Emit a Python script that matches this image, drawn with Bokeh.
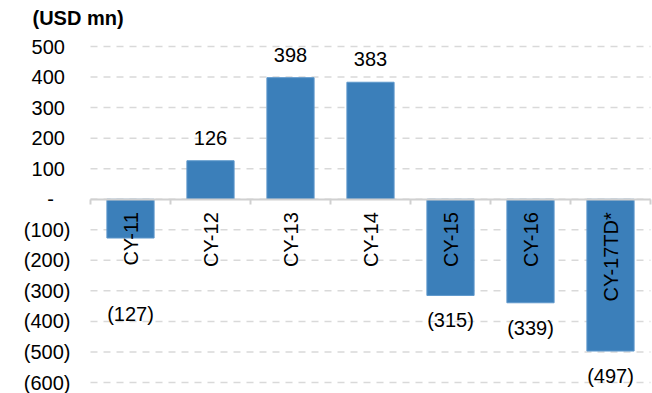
import math
from bokeh.plotting import figure
from bokeh.models import Range1d, FixedTicker, LinearAxis, ColumnDataSource, Label
from bokeh.core.properties import value
from bokeh.embed import file_html
from bokeh.resources import INLINE

categories = ["CY-11", "CY-12", "CY-13", "CY-14", "CY-15", "CY-16", "CY-17TD*"]
values = [-127, 126, 398, 383, -315, -339, -497]
y_ticks = [500, 400, 300, 200, 100, 0, -100, -200, -300, -400, -500, -600]
unit_label = "(USD mn)"

FONT = "Liberation Sans"
BAR = "#3B7FBA"

def fmt(v):
    if v > 0:
        return f"{v:,}\u00a0"
    if v < 0:
        return f"({abs(v):,})"
    return "-\u00a0\u00a0\u00a0"

W, H = 652, 393
n = len(categories)
cat_px = 80          # pixel width of one category slot
left_px = 90         # space for the value labels
right_px = 2
top_px = 46          # top gridline distance from top
bottom_px = 11       # bottom gridline distance from bottom
plot_px = H - top_px - bottom_px
px_per_unit = plot_px / (max(y_ticks) - min(y_ticks))

x_lo = -left_px / cat_px
x_hi = n + right_px / cat_px
y_hi = max(y_ticks) + top_px / px_per_unit
y_lo = min(y_ticks) - bottom_px / px_per_unit

p = figure(width=W, height=H, output_backend="svg", toolbar_location=None,
           x_range=Range1d(x_lo, x_hi), y_range=Range1d(y_lo, y_hi),
           min_border_left=0, min_border_right=0, min_border_top=0, min_border_bottom=0,
           x_axis_type=None, y_axis_type=None)
p.outline_line_color = None
p.background_fill_color = "white"
p.border_fill_color = "white"
p.xgrid.visible = False
p.ygrid.visible = False

xs = [i + 0.5 for i in range(n)]

# dashed gridlines spanning the category area only
gsrc = ColumnDataSource(dict(y=y_ticks, x0=[0] * len(y_ticks), x1=[n] * len(y_ticks),
                             lab=[fmt(t) for t in y_ticks]))
p.segment(x0="x0", x1="x1", y0="y", y1="y", source=gsrc,
          line_color="#d9d9d9", line_dash="7 6", line_width=1.5)

# value axis labels
p.text(x="x0", y="y", text="lab", source=gsrc, x_offset=-20,
       text_align="right", text_baseline="middle",
       text_font=value(FONT), text_font_size="20px", text_color="black")

# bars
src = ColumnDataSource(dict(x=xs, top=values, cat=categories))
p.vbar(x="x", top="top", bottom=0, width=0.59, source=src,
       fill_color=BAR, line_color="#5E98CC", line_width=1)

# zero axis with ticks at category boundaries
bounds = list(range(n + 1))
xax = LinearAxis(ticker=FixedTicker(ticks=bounds), fixed_location=0, bounds=(0, n),
                 major_label_overrides={b: "" for b in bounds})
xax.axis_line_color = "#d0d0d0"
xax.axis_line_width = 2
xax.major_tick_line_color = "#d0d0d0"
xax.major_tick_line_width = 2
xax.major_tick_in = 0
xax.major_tick_out = 5
xax.minor_tick_line_color = None
xax.major_label_standoff = 0
p.add_layout(xax, "below")

# category labels inside bars, reading upward, hanging from the zero line
p.text(x="x", y=0, text="cat", source=src, angle=math.pi / 2,
       text_align="right", text_baseline="middle", y_offset=13,
       text_font=value(FONT), text_font_size="20px", text_color="black")

# data labels
cat_len_px = 73
lab_offsets = []
for v in values:
    if v >= 0:
        lab_offsets.append(-23)
    else:
        bar_px = abs(v) * px_per_unit
        if bar_px < cat_len_px + 20:
            lab_offsets.append(115 - bar_px)
        else:
            lab_offsets.append(25)
lsrc = ColumnDataSource(dict(x=xs, y=values, t=[fmt(v).strip("\u00a0") for v in values],
                             off=lab_offsets))
p.text(x="x", y="y", text="t", source=lsrc, y_offset="off",
       text_align="center", text_baseline="middle",
       text_font=value(FONT), text_font_size="20px", text_color="black")

# unit label (top-left)
p.add_layout(Label(x=32, y=H - 17, x_units="screen", y_units="screen", text=unit_label,
                   text_font=FONT, text_font_size="20px", text_font_style="bold",
                   text_align="left", text_baseline="middle", text_color="black"))

open("out.html", "w").write(file_html(p, INLINE))
